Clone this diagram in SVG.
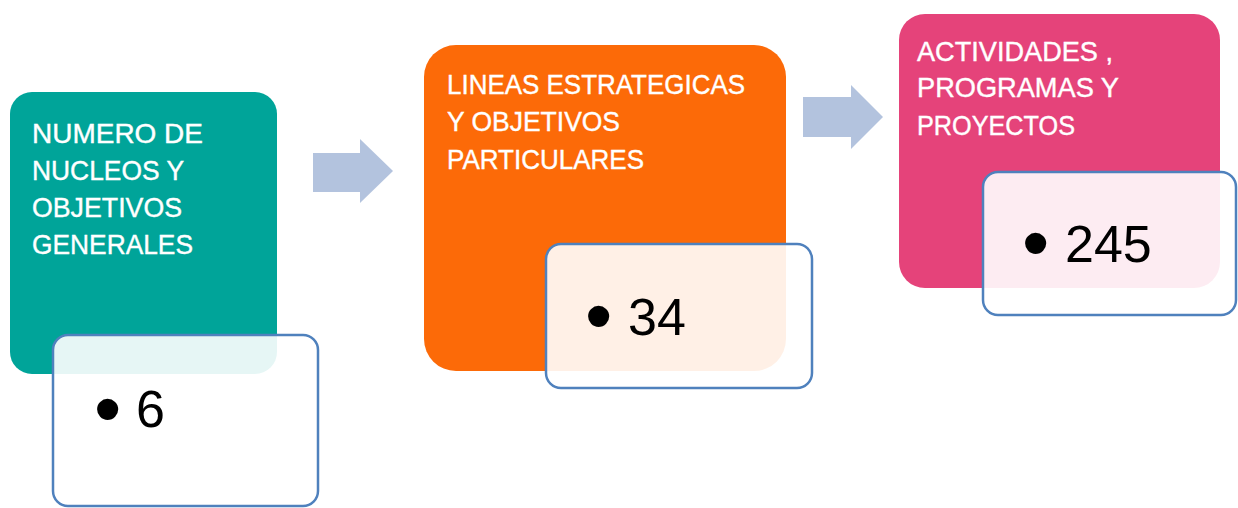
<svg xmlns="http://www.w3.org/2000/svg" width="1238" height="508" viewBox="0 0 1238 508">
<style>
.t{font-family:"Liberation Sans",Arial,sans-serif;font-size:28px;fill:#ffffff;stroke:#ffffff;stroke-width:0.4}
.n{font-family:"Liberation Sans",Arial,sans-serif;font-size:52px;fill:#000000}
.b{font-size:78px}
.ov{fill:#ffffff;fill-opacity:0.9;stroke:#4F81BD;stroke-width:2.5}
.ar{fill:#B3C3DE}
</style>
<rect width="1238" height="508" fill="#ffffff"/>
<g id="connectors">
<path class="ar" d="M313,153 L360,153 L360,139 L393,171 L360,203 L360,192 L313,192 Z"/>
<path class="ar" d="M803,97 L851,97 L851,85 L883,117 L851,149 L851,137 L803,137 Z"/>
</g>
<g id="node1">
<rect x="10" y="92" width="267" height="282" rx="22" fill="#00A499"/>
<text class="t"><tspan x="32" y="143" textLength="171" lengthAdjust="spacingAndGlyphs">NUMERO DE</tspan><tspan x="32" y="180" textLength="152" lengthAdjust="spacingAndGlyphs">NUCLEOS Y</tspan><tspan x="32" y="217" textLength="150" lengthAdjust="spacingAndGlyphs">OBJETIVOS</tspan><tspan x="32" y="254" textLength="161" lengthAdjust="spacingAndGlyphs">GENERALES</tspan></text>
</g>
<g id="value1">
<rect class="ov" x="53" y="335" width="265" height="171" rx="15"/>
<text class="n"><tspan class="b" x="94" y="435">•</tspan><tspan x="136" y="427">6</tspan></text>
</g>
<g id="node2">
<rect x="424" y="45" width="362" height="326" rx="32" fill="#FC6A08"/>
<text class="t"><tspan x="447" y="94" textLength="298" lengthAdjust="spacingAndGlyphs">LINEAS ESTRATEGICAS</tspan><tspan x="447" y="131" textLength="173" lengthAdjust="spacingAndGlyphs">Y OBJETIVOS</tspan><tspan x="447" y="169" textLength="197" lengthAdjust="spacingAndGlyphs">PARTICULARES</tspan></text>
</g>
<g id="value2">
<rect class="ov" x="546" y="244" width="266" height="144" rx="15"/>
<text class="n"><tspan class="b" x="585" y="342">•</tspan><tspan x="628" y="335">34</tspan></text>
</g>
<g id="node3">
<rect x="899" y="14" width="321" height="274" rx="26" fill="#E5437A"/>
<text class="t"><tspan x="917" y="61" textLength="196" lengthAdjust="spacingAndGlyphs">ACTIVIDADES ,</tspan><tspan x="917" y="97" textLength="202" lengthAdjust="spacingAndGlyphs">PROGRAMAS Y</tspan><tspan x="917" y="135" textLength="158" lengthAdjust="spacingAndGlyphs">PROYECTOS</tspan></text>
</g>
<g id="value3">
<rect class="ov" x="983" y="172" width="253" height="143" rx="15"/>
<text class="n"><tspan class="b" x="1022" y="269">•</tspan><tspan x="1065" y="262">245</tspan></text>
</g>
</svg>
